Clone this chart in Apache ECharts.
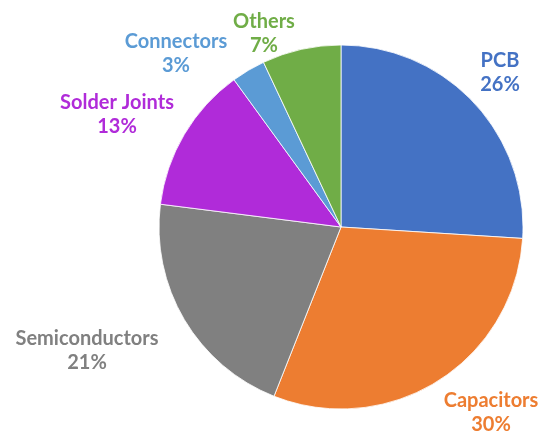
<!DOCTYPE html>
<html>
<head>
<meta charset="utf-8">
<script src="https://cdn.jsdelivr.net/npm/echarts@6/dist/echarts.min.js"></script>
<style>
  html, body { margin: 0; padding: 0; background: #ffffff; }
  #chart { width: 543px; height: 434px; }
</style>
</head>
<body>
<div id="chart"></div>
<script>
// Failure share by component type
const categories = ['PCB', 'Capacitors', 'Semiconductors', 'Solder Joints', 'Connectors', 'Others'];
const shares = [26, 30, 21, 13, 3, 7];
const colors = ['#4472C4', '#ED7D31', '#808080', '#B02BD9', '#5B9BD5', '#70AD47'];

// Where each two-line label block is centred (pixels)
const labelAnchors = [[500, 73], [491, 413], [87, 351], [117, 115], [176, 54], [264, 34]];

const chart = echarts.init(document.getElementById('chart'));

const data = categories.map((name, i) => ({
  name: name,
  value: shares[i],
  itemStyle: { color: colors[i] },
  label: { color: colors[i] }
}));

chart.setOption({
  animation: false,
  series: [{
    type: 'pie',
    center: [341, 227],
    radius: 182,
    startAngle: 90,
    clockwise: true,
    data: data,
    itemStyle: { borderColor: '#ffffff', borderWidth: 0.8 },
    label: {
      show: true,
      position: 'outside',
      alignTo: 'none',
      overflow: 'none',
      formatter: p => p.name + '\n' + p.value + '%',
      fontFamily: 'Lato',
      fontWeight: 'bold',
      fontSize: 20,
      lineHeight: 24,
      align: 'center'
    },
    labelLine: { show: false },
    labelLayout: params => ({
      x: labelAnchors[params.dataIndex][0],
      y: labelAnchors[params.dataIndex][1],
      align: 'center',
      verticalAlign: 'middle'
    })
  }]
});
</script>
</body>
</html>
